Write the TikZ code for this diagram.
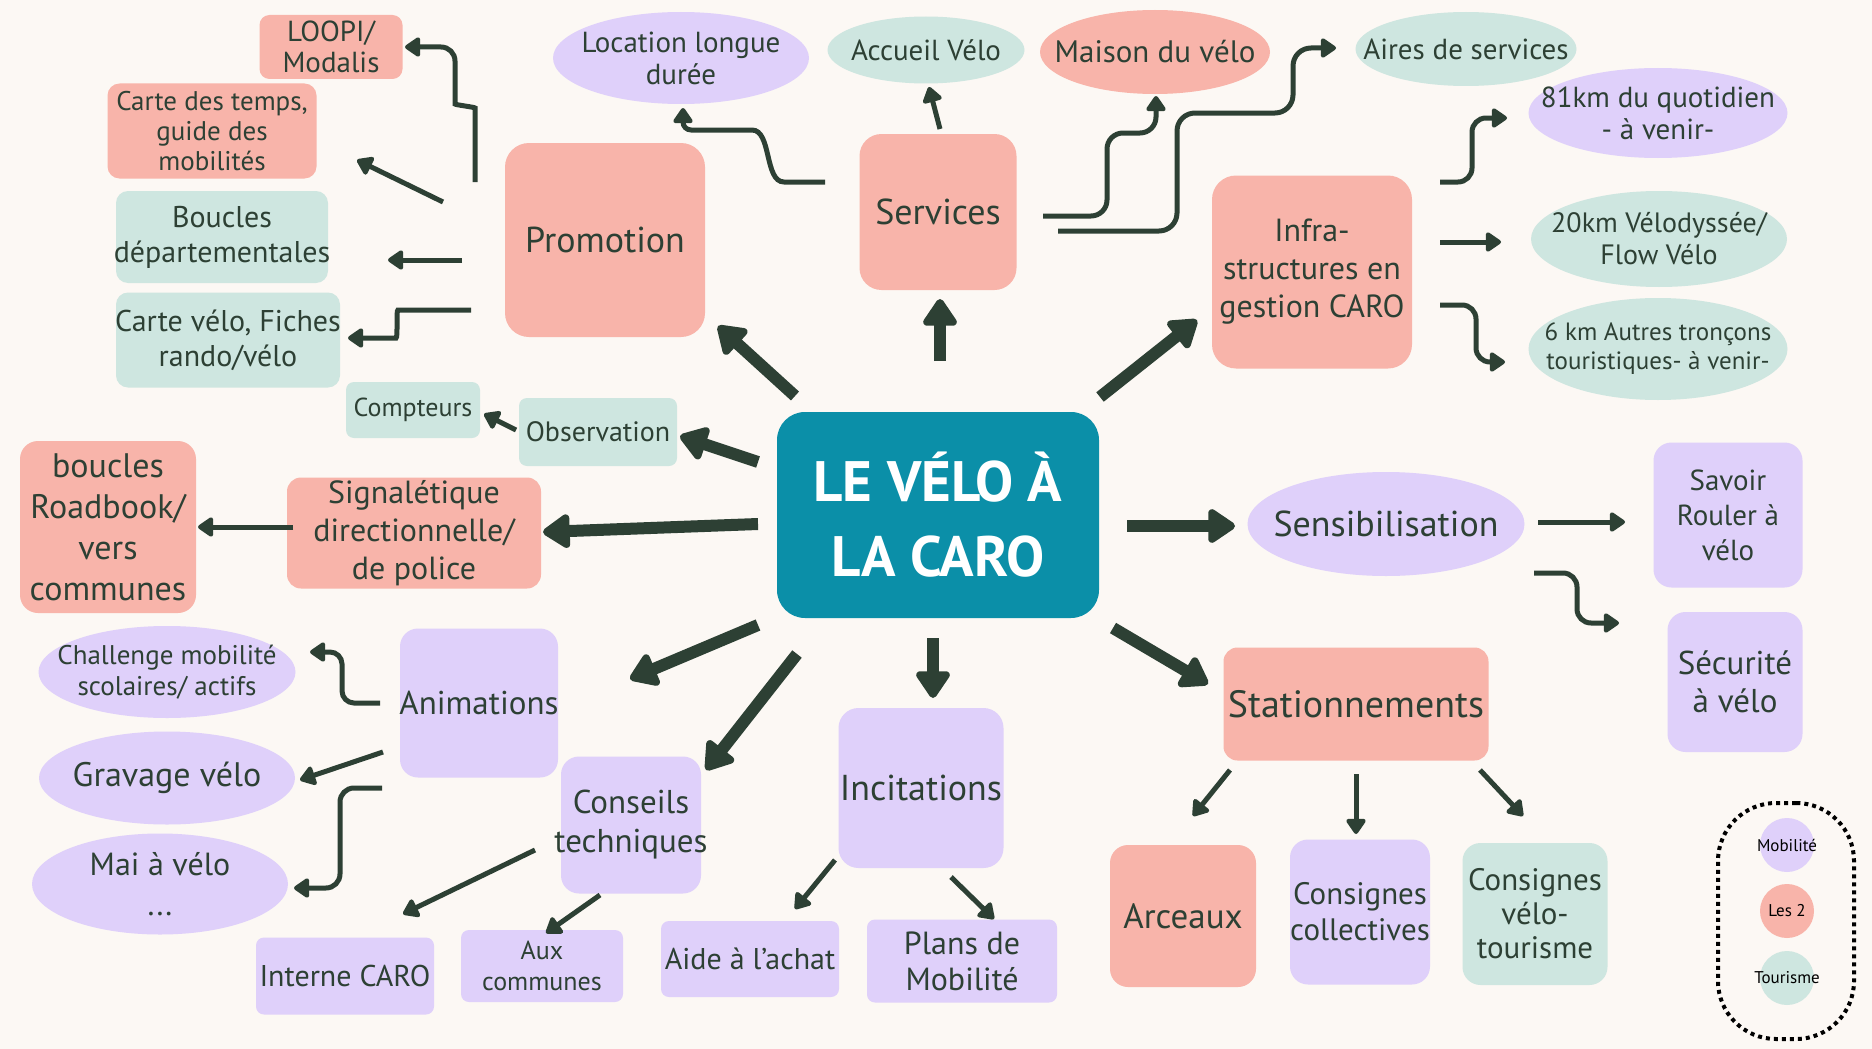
\documentclass[tikz,border=0pt]{standalone}
\usepackage{fontspec}
\setmainfont{PT Sans}
\usetikzlibrary{shapes.geometric,arrows.meta}
\definecolor{bg}{HTML}{FCF8F4}
\definecolor{pinkc}{HTML}{F8B4AA}
\definecolor{lavc}{HTML}{DFD0FA}
\definecolor{mintc}{HTML}{CEE6E0}
\definecolor{tealc}{HTML}{0B8FA8}
\definecolor{ink}{HTML}{2D4034}
\newcommand\fs[2]{\fontsize{#1}{#2}\selectfont}
\begin{document}
\begin{tikzpicture}[x=1pt,y=-1pt,
  blk/.style={inner sep=-50pt, align=center, text=ink},
  rbox/.style={blk, rectangle, rounded corners=16pt},
  ell/.style={blk, ellipse},
  pk/.style={fill=pinkc}, lv/.style={fill=lavc}, mt/.style={fill=mintc},
  big/.style={line width=12pt, draw=ink, -{Triangle[round,width=38pt,length=30pt]}},
  sm/.style={line width=5pt, draw=ink, -{Triangle[round,width=22pt,length=17pt]}, rounded corners=14pt},
  leg/.style={circle, inner sep=0pt, minimum size=54pt},
  legtext/.style={text=black, font=\fs{17}{18}, inner sep=0pt},
]
\fill[bg] (0,0) rectangle (1872,1049);

% central node
\node[rbox,fill=tealc,minimum width=322pt,minimum height=206pt,rounded corners=28pt,text=white,font=\bfseries\fs{57}{75}] (center) at (938,515) {LE VÉLO À\\LA CARO};

% main branches
\node[rbox,pk,minimum width=200pt,minimum height=194pt,rounded corners=24pt,font=\fs{36}{40}] (promo) at (605,240) {Promotion};
\node[rbox,pk,minimum width=157pt,minimum height=156pt,rounded corners=22pt,font=\fs{36}{40}] (serv) at (938,212) {Services};
\node[rbox,pk,minimum width=200pt,minimum height=193pt,rounded corners=24pt,font=\fs{32}{38}] (infra) at (1312,272) {Infra-\\structures en\\gestion CARO};
\node[rbox,mt,minimum width=158pt,minimum height=68pt,rounded corners=8pt,font=\fs{28}{30}] (obs) at (598,432) {Observation};
\node[rbox,pk,minimum width=254pt,minimum height=111pt,rounded corners=14pt,font=\fs{32}{38}] (signal) at (414,533) {Signalétique\\directionnelle/\\de police};
\node[ell,lv,minimum width=277pt,minimum height=104pt,font=\fs{36}{40}] (sens) at (1386,524) {Sensibilisation};
\node[rbox,lv,minimum width=158pt,minimum height=149pt,rounded corners=18pt,font=\fs{33}{36}] (anim) at (479,703) {Animations};
\node[rbox,lv,minimum width=140pt,minimum height=137pt,rounded corners=18pt,font=\fs{33}{39}] (cons) at (631,825) {Conseils\\techniques};
\node[rbox,lv,minimum width=165pt,minimum height=160pt,rounded corners=20pt,font=\fs{36}{40}] (incit) at (921,788) {Incitations};
\node[rbox,pk,minimum width=265pt,minimum height=113pt,rounded corners=14pt,font=\fs{38}{40}] (stat) at (1356,704) {Stationnements};

% Promotion children
\node[rbox,pk,minimum width=143pt,minimum height=64pt,rounded corners=10pt,font=\fs{29}{31}] (loopi) at (331,47) {LOOPI/\\Modalis};
\node[rbox,pk,minimum width=209pt,minimum height=95pt,rounded corners=12pt,font=\fs{27}{30}] (ctemps) at (212,131) {Carte des temps,\\guide des\\mobilités};
\node[rbox,mt,minimum width=212pt,minimum height=92pt,rounded corners=12pt,font=\fs{30}{35}] (bdep) at (222,237) {Boucles\\départementales};
\node[rbox,mt,minimum width=224pt,minimum height=95pt,rounded corners=12pt,font=\fs{30}{35}] (cvelo) at (228,340) {Carte vélo, Fiches\\rando/vélo};

% Services children
\node[ell,lv,minimum width=256pt,minimum height=92pt,font=\fs{29}{32}] (loc) at (681,58) {Location longue\\durée};
\node[ell,mt,minimum width=197pt,minimum height=67pt,font=\fs{29}{32}] (accueil) at (926,50) {Accueil Vélo};
\node[ell,pk,minimum width=230pt,minimum height=84pt,font=\fs{31}{32}] (maison) at (1155,52) {Maison du vélo};
\node[ell,mt,minimum width=221pt,minimum height=74pt,font=\fs{29}{32}] (aires) at (1466,49) {Aires de services};

% Infra children
\node[ell,lv,minimum width=259pt,minimum height=90pt,font=\fs{29}{32}] (km81) at (1658,113) {81km du quotidien\\- à venir-};
\node[ell,mt,minimum width=256pt,minimum height=96pt,font=\fs{28}{32}] (km20) at (1659,239) {20km Vélodyssée/\\Flow Vélo};
\node[ell,mt,minimum width=259pt,minimum height=102pt,font=\fs{25}{29}] (km6) at (1658,349) {6 km Autres tronçons\\touristiques- à venir-};

% Observation / Signalétique children
\node[rbox,mt,minimum width=134pt,minimum height=56pt,rounded corners=8pt,font=\fs{26}{28}] (compt) at (413,410) {Compteurs};
\node[rbox,pk,minimum width=176pt,minimum height=172pt,rounded corners=18pt,font=\fs{34}{41}] (roadbook) at (108,527) {boucles\\Roadbook/\\vers\\communes};

% Sensibilisation children
\node[rbox,lv,minimum width=149pt,minimum height=145pt,rounded corners=18pt,font=\fs{29}{35}] (savoir) at (1728,515) {Savoir\\Rouler à\\vélo};
\node[rbox,lv,minimum width=135pt,minimum height=140pt,rounded corners=18pt,font=\fs{33}{38}] (secu) at (1735,682) {Sécurité\\à vélo};

% Stationnements children
\node[rbox,pk,minimum width=146pt,minimum height=142pt,rounded corners=18pt,font=\fs{35}{38}] (arc) at (1183,916) {Arceaux};
\node[rbox,lv,minimum width=140pt,minimum height=145pt,rounded corners=18pt,font=\fs{31}{36}] (ccol) at (1360,912) {Consignes\\collectives};
\node[rbox,mt,minimum width=145pt,minimum height=142pt,rounded corners=18pt,font=\fs{31}{34}] (cvt) at (1535,914) {Consignes\\vélo-\\tourisme};

% Animations children
\node[ell,lv,minimum width=257pt,minimum height=92pt,font=\fs{27}{31}] (chall) at (167,672) {Challenge mobilité\\scolaires/ actifs};
\node[ell,lv,minimum width=256pt,minimum height=93pt,font=\fs{34}{36}] (grav) at (167,778) {Gravage vélo};
\node[ell,lv,minimum width=256pt,minimum height=101pt,font=\fs{32}{40}] (mai) at (160,884) {Mai à vélo\\...};

% Conseils / Incitations children
\node[rbox,lv,minimum width=178pt,minimum height=77pt,rounded corners=8pt,font=\fs{30}{32}] (interne) at (345,976) {Interne CARO};
\node[rbox,lv,minimum width=162pt,minimum height=72pt,rounded corners=8pt,font=\fs{26}{31}] (aux) at (542,966) {Aux\\communes};
\node[rbox,lv,minimum width=178pt,minimum height=76pt,rounded corners=8pt,font=\fs{30}{32}] (aide) at (750,959) {Aide à l'achat};
\node[rbox,lv,minimum width=190pt,minimum height=83pt,rounded corners=8pt,font=\fs{32}{36}] (plans) at (962,961) {Plans de\\Mobilité};

% legend
\node[draw=black, line width=4pt, dash pattern=on 4pt off 4pt, rounded corners=58pt, minimum width=136pt, minimum height=236pt, inner sep=0pt] (legend) at (1786,921) {};
\node[leg, fill=lavc] (lmob) at (1787,845) {};
\node[leg, fill=pinkc] (lles) at (1787,911) {};
\node[leg, fill=mintc] (ltour) at (1787,978) {};
\node[legtext] (tmob) at (lmob) {Mobilité};
\node[legtext] (tles) at (lles) {Les 2};
\node[legtext] (ttour) at (ltour) {Tourisme};

% ---- coordinates of connector ends
\coordinate (c1s) at (795,396);  \coordinate (c1e) at (718,326);
\coordinate (c2s) at (940,361);  \coordinate (c2e) at (940,299);
\coordinate (c3s) at (1100,397); \coordinate (c3e) at (1197,320);
\coordinate (c4s) at (758,462);  \coordinate (c4e) at (680,436);
\coordinate (c5s) at (758,524);  \coordinate (c5e) at (543,532);
\coordinate (c6s) at (1127,526); \coordinate (c6e) at (1235,526);
\coordinate (c7s) at (758,625);  \coordinate (c7e) at (630,679);
\coordinate (c8s) at (797,654);  \coordinate (c8e) at (706,770);
\coordinate (c9s) at (933,638);  \coordinate (c9e) at (933,698);
\coordinate (c10s) at (1113,628); \coordinate (c10e) at (1208,684);

\draw[big] (c1s) -- (c1e);
\draw[big] (c2s) -- (c2e);
\draw[big] (c3s) -- (c3e);
\draw[big] (c4s) -- (c4e);
\draw[big] (c5s) -- (c5e);
\draw[big] (c6s) -- (c6e);
\draw[big] (c7s) -- (c7e);
\draw[big] (c8s) -- (c8e);
\draw[big] (c9s) -- (c9e);
\draw[big] (c10s) -- (c10e);

% Promotion
\coordinate (p1s) at (475,182); \coordinate (p1e) at (405,47);
\draw[sm] (p1s) -- (475,122) to[out=90,in=-90] (455,90) -- (455,47) -- (p1e);
\coordinate (p2s) at (443,202); \coordinate (p2e) at (357,160);
\draw[sm] (p2s) -- (p2e);
\coordinate (p3s) at (462,260); \coordinate (p3e) at (388,260);
\draw[sm] (p3s) -- (p3e);
\coordinate (p4s) at (471,310); \coordinate (p4e) at (348,338);
\draw[sm] (p4s) -- (412,310) to[out=180,in=0] (382,338) -- (p4e);

% Services
\coordinate (s1s) at (825,182); \coordinate (s1e) at (683,108);
\draw[sm, rounded corners=8pt] (s1s) -- (792,182) to[out=180,in=0] (744,130) -- (683,130) -- (s1e);
\coordinate (s2s) at (940,129); \coordinate (s2e) at (929,87);
\draw[sm] (s2s) -- (s2e);
\coordinate (s3s) at (1043,216); \coordinate (s3e) at (1156,96);
\draw[sm, rounded corners=16pt] (s3s) -- (1107,216) -- (1107,133) -- (1156,133) -- (s3e);
\coordinate (s4s) at (1058,231); \coordinate (s4e) at (1336,48);
\draw[sm, rounded corners=18pt] (s4s) -- (1177,231) -- (1177,113) -- (1293,113) -- (1293,48) -- (s4e);

% Infra
\coordinate (i1s) at (1440,182); \coordinate (i1e) at (1507,118);
\draw[sm, rounded corners=14pt] (i1s) -- (1472,182) -- (1472,118) -- (i1e);
\coordinate (i2s) at (1440,242); \coordinate (i2e) at (1501,242);
\draw[sm] (i2s) -- (i2e);
\coordinate (i3s) at (1440,305); \coordinate (i3e) at (1505,362);
\draw[sm, rounded corners=14pt] (i3s) -- (1476,305) -- (1476,362) -- (i3e);

% Observation, Signalétique
\coordinate (o1s) at (516,430); \coordinate (o1e) at (484,414);
\draw[sm] (o1s) -- (o1e);
\coordinate (g1s) at (293,527); \coordinate (g1e) at (198,527);
\draw[sm] (g1s) -- (g1e);

% Sensibilisation
\coordinate (e1s) at (1538,522); \coordinate (e1e) at (1625,522);
\draw[sm] (e1s) -- (e1e);
\coordinate (e2s) at (1534,573); \coordinate (e2e) at (1619,623);
\draw[sm, rounded corners=14pt] (e2s) -- (1577,573) -- (1577,623) -- (e2e);

% Stationnements
\coordinate (t1s) at (1230,770); \coordinate (t1e) at (1193,816);
\draw[sm] (t1s) -- (t1e);
\coordinate (t2s) at (1356,774); \coordinate (t2e) at (1356,834);
\draw[sm] (t2s) -- (t2e);
\coordinate (t3s) at (1480,770); \coordinate (t3e) at (1523,816);
\draw[sm] (t3s) -- (t3e);

% Animations
\coordinate (a1s) at (380,703); \coordinate (a1e) at (310,652);
\draw[sm, rounded corners=12pt] (a1s) -- (342,703) -- (342,652) -- (a1e);
\coordinate (a2s) at (383,752); \coordinate (a2e) at (300,780);
\draw[sm] (a2s) -- (a2e);
\coordinate (a3s) at (382,788); \coordinate (a3e) at (294,888);
\draw[sm, rounded corners=14pt] (a3s) -- (340,788) -- (340,888) -- (a3e);

% Conseils, Incitations
\coordinate (n1s) at (535,850); \coordinate (n1e) at (403,914);
\draw[sm] (n1s) -- (n1e);
\coordinate (n2s) at (600,895); \coordinate (n2e) at (546,933);
\draw[sm] (n2s) -- (n2e);
\coordinate (n3s) at (835,860); \coordinate (n3e) at (795,909);
\draw[sm] (n3s) -- (n3e);
\coordinate (n4s) at (951,877); \coordinate (n4e) at (994,919);
\draw[sm] (n4s) -- (n4e);
\end{tikzpicture}
\end{document}
